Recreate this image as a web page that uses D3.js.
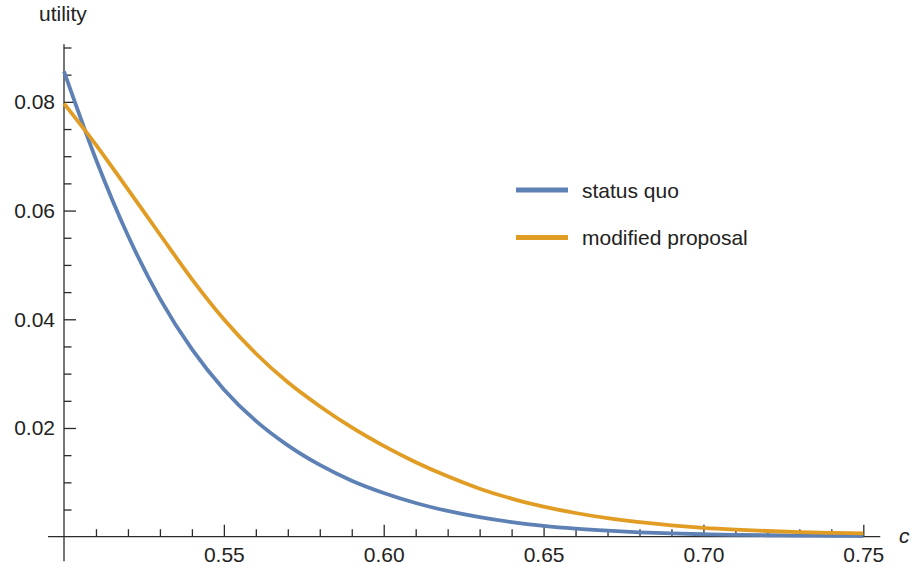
<!DOCTYPE html>
<html>
<head>
<meta charset="utf-8">
<script src="https://cdn.jsdelivr.net/npm/d3@7"></script>
<style>
  body { margin: 0; background: #fff; }
  svg { font-family: "Liberation Sans", Arial, sans-serif; }
  .axis path { display: none; }
  .axis line { stroke: #2b2b2b; stroke-width: 1.3; }
  .axis text { font-size: 21px; fill: #222; }
</style>
</head>
<body>
<svg id="chart" width="914" height="569"></svg>
<script>
// values of c (x axis)
const cValues = [0.50, 0.51, 0.52, 0.53, 0.54, 0.55, 0.56, 0.57, 0.58, 0.59,
                 0.60, 0.61, 0.62, 0.63, 0.64, 0.65, 0.66, 0.67, 0.68, 0.69,
                 0.70, 0.71, 0.72, 0.73, 0.74, 0.75];

// status quo utility
const statusQuo = [0.0856, 0.0694, 0.0554, 0.0438, 0.0345, 0.0271, 0.0213, 0.0168, 0.0132, 0.0103,
                   0.00804, 0.00620, 0.00474, 0.00358, 0.00268, 0.00199, 0.00148, 0.00110, 0.00081, 0.00060,
                   0.00045, 0.00034, 0.00027, 0.00021, 0.00017, 0.00013];

// modified proposal utility
const modified = [0.0797, 0.0721, 0.0639, 0.0556, 0.0474, 0.0400, 0.0337, 0.0284, 0.0240, 0.0201,
                  0.0167, 0.0137, 0.0111, 0.00883, 0.00701, 0.00555, 0.00436, 0.00341, 0.00267, 0.00209,
                  0.00164, 0.00131, 0.00105, 0.00086, 0.00072, 0.00061];

const seriesNames = ["status quo", "modified proposal"];
const seriesColors = ["#5e81b5", "#e19c24"];

const xMajor = [0.55, 0.60, 0.65, 0.70, 0.75];
const xMinor = d3.range(51, 76).map(d => d / 100).filter(d => !xMajor.some(m => Math.abs(m - d) < 1e-9));
const yMajor = [0.02, 0.04, 0.06, 0.08];
const yMinor = d3.range(1, 19).map(d => d * 0.005).filter(d => !yMajor.some(m => Math.abs(m - d) < 1e-9));

const svg = d3.select("#chart");

const x = d3.scaleLinear().domain([0.5, 0.75]).range([64, 863.3]);
const y = d3.scaleLinear().domain([0, 0.09]).range([536.7, 47.5]);

// axes lines (extend slightly past the data range like Mathematica)
svg.append("line")
    .attr("x1", x(0.495)).attr("x2", x(0.7553))
    .attr("y1", y(0)).attr("y2", y(0))
    .attr("stroke", "#2b2b2b").attr("stroke-width", 1.3);
svg.append("line")
    .attr("x1", x(0.5)).attr("x2", x(0.5))
    .attr("y1", y(-0.0045)).attr("y2", y(0.0906))
    .attr("stroke", "#2b2b2b").attr("stroke-width", 1.3);

// x ticks
svg.append("g")
    .attr("class", "axis")
    .attr("transform", `translate(0,${y(0)})`)
    .call(d3.axisBottom(x).tickValues(xMinor).tickSize(-7.5).tickFormat(""));
svg.append("g")
    .attr("class", "axis")
    .attr("transform", `translate(0,${y(0)})`)
    .call(d3.axisBottom(x).tickValues(xMajor).tickSize(-12).tickPadding(10).tickFormat(d3.format(".2f")));

// y ticks
svg.append("g")
    .attr("class", "axis")
    .attr("transform", `translate(${x(0.5)},0)`)
    .call(d3.axisLeft(y).tickValues(yMinor).tickSize(-7.5).tickFormat(""));
svg.append("g")
    .attr("class", "axis")
    .attr("transform", `translate(${x(0.5)},0)`)
    .call(d3.axisLeft(y).tickValues(yMajor).tickSize(-12).tickPadding(9).tickFormat(d3.format(".2f")));

// axis labels
svg.append("text")
    .attr("x", 39).attr("y", 21)
    .attr("font-size", 21).attr("fill", "#222")
    .text("utility");
svg.append("text")
    .attr("x", 899).attr("y", 543)
    .attr("font-size", 21).attr("font-style", "italic").attr("fill", "#222")
    .text("c");

// curves
const line = d3.line()
    .x((d, i) => x(cValues[i]))
    .y(d => y(d))
    .curve(d3.curveMonotoneX);

[statusQuo, modified].forEach((s, i) => {
    svg.append("path")
        .attr("d", line(s))
        .attr("fill", "none")
        .attr("stroke", seriesColors[i])
        .attr("stroke-width", 3.8)
        .attr("stroke-linejoin", "round");
});

// legend
const legend = svg.append("g").attr("transform", "translate(516,190)");
seriesNames.forEach((name, i) => {
    legend.append("line")
        .attr("x1", 0).attr("x2", 52)
        .attr("y1", i * 47.5).attr("y2", i * 47.5)
        .attr("stroke", seriesColors[i])
        .attr("stroke-width", 5);
    legend.append("text")
        .attr("x", 66).attr("y", i * 47.5 + 7.5)
        .attr("font-size", 21).attr("fill", "#222")
        .text(name);
});
</script>
</body>
</html>
